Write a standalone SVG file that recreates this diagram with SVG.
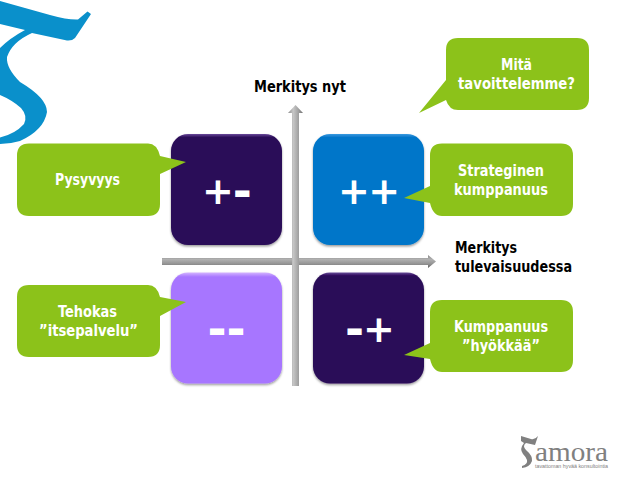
<svg xmlns="http://www.w3.org/2000/svg" width="640" height="480" viewBox="0 0 640 480">
<style>
.lbl{font-family:"DejaVu Sans",Verdana,sans-serif;font-weight:700;font-size:16px;font-stretch:condensed}
.w{fill:#fff}.k{fill:#000}
.sym{font-family:"DejaVu Sans",sans-serif;font-weight:700;font-size:38px;fill:#fff}
.hy{font-size:46px}
.call{fill:#8cc21a}
</style>
<defs>
<linearGradient id="v" x1="0" x2="1" y1="0" y2="0"><stop offset="0" stop-color="#8e8e8e"/><stop offset=".35" stop-color="#c6c6c6"/><stop offset=".7" stop-color="#a0a0a0"/><stop offset="1" stop-color="#707070"/></linearGradient>
<linearGradient id="h" x1="0" x2="0" y1="0" y2="1"><stop offset="0" stop-color="#8a8a8a"/><stop offset=".35" stop-color="#b0b0b0"/><stop offset=".7" stop-color="#929292"/><stop offset="1" stop-color="#5c5c5c"/></linearGradient>
<linearGradient id="dk" x1="0" x2="0" y1="0" y2="1"><stop offset="0" stop-color="#6a4a9a"/><stop offset=".03" stop-color="#2a0a58"/><stop offset="1" stop-color="#2a0a58"/></linearGradient>
<linearGradient id="bl" x1="0" x2="0" y1="0" y2="1"><stop offset="0" stop-color="#3a9ae0"/><stop offset=".03" stop-color="#0576c9"/><stop offset="1" stop-color="#0576c9"/></linearGradient>
<linearGradient id="li" x1="0" x2="0" y1="0" y2="1"><stop offset="0" stop-color="#d4b4ff"/><stop offset=".04" stop-color="#a776ff"/><stop offset="1" stop-color="#a776ff"/></linearGradient>
<filter id="sh" x="-10%" y="-10%" width="120%" height="120%"><feDropShadow dx="0" dy="1.500" stdDeviation="1.200" flood-color="#000" flood-opacity=".4"/></filter>
</defs>
<rect width="640" height="480" fill="#fff"/>
<path id="logo-mark" fill="#0a90cb" d="M0 1L50 15Q68 20 78 19.500L87.500 11.500L91 14L75 38Q72 41 67 40.500L32 33Q12 42 7 57Q6 68 20 82Q47 98 47 112Q44 130 20 141Q10 144 0 144V137.500Q15 134 24 124Q28 116 21 108Q12 100 0 95V48Q10 38 25 30L0 24Z"/>
<g id="axes">
<path fill="url(#h)" d="M162 258H428V255L436 261.500L428 268V265H162Z"/>
<path fill="url(#v)" d="M292 386V113H288L295.500 105L303 113H299V386Z"/>
</g>
<g id="q-pm"><rect x="171" y="134" width="111" height="111" rx="17" fill="url(#dk)" filter="url(#sh)"/><text class="sym" x="202" y="203.500">+<tspan class="hy" dx="-1" dy="3">-</tspan></text></g>
<g id="q-pp"><rect x="313" y="134" width="111" height="111" rx="17" fill="url(#bl)" filter="url(#sh)"/><text class="sym" x="338" y="203.500" letter-spacing="-1.500">++</text></g>
<g id="q-mm"><rect x="171" y="272.500" width="111" height="111" rx="17" fill="url(#li)" filter="url(#sh)"/><text class="sym hy" x="207.500" y="344.500">--</text></g>
<g id="q-mp"><rect x="313" y="272.500" width="111" height="111" rx="17" fill="url(#dk)" filter="url(#sh)"/><text class="sym" x="345" y="342"><tspan class="hy" dy="3">-</tspan><tspan dy="-3" dx="-1">+</tspan></text></g>
<g id="c-pysyvyys"><path class="call" d="M29 143.500H148Q157 143.500 160 156L186 162L160 174V204Q160 216 148 216H29Q17 216 17 204V155.500Q17 143.500 29 143.500Z"/><text class="lbl w" x="55" y="185" textLength="65" lengthAdjust="spacingAndGlyphs">Pysyvyys</text></g>
<g id="c-mita"><path class="call" d="M458 38H577Q589 38 589 50V98Q589 110 577 110H458Q449 110 446 100L419 113L446 80V50Q446 38 458 38Z"/><text class="lbl w" x="501" y="70" textLength="31" lengthAdjust="spacingAndGlyphs">Mitä</text><text class="lbl w" x="458" y="89" textLength="117" lengthAdjust="spacingAndGlyphs">tavoittelemme?</text></g>
<g id="c-strateginen"><path class="call" d="M442 143.500H561Q573 143.500 573 155.500V204Q573 216 561 216H442Q433 216 430 203L404 198L430 186V155.500Q430 143.500 442 143.500Z"/><text class="lbl w" x="458" y="176" textLength="86" lengthAdjust="spacingAndGlyphs">Strateginen</text><text class="lbl w" x="454" y="195" textLength="94" lengthAdjust="spacingAndGlyphs">kumppanuus</text></g>
<g id="c-tehokas"><path class="call" d="M29 285H148Q157 285 160 297L186 302L160 316V345Q160 357 148 357H29Q17 357 17 345V297Q17 285 29 285Z"/><text class="lbl w" x="58" y="317" textLength="59" lengthAdjust="spacingAndGlyphs">Tehokas</text><text class="lbl w" x="39" y="336" textLength="99" lengthAdjust="spacingAndGlyphs">”itsepalvelu”</text></g>
<g id="c-kumppanuus"><path class="call" d="M442 300H561Q573 300 573 312V360Q573 372 561 372H442Q433 372 430 359L404 355L430 343V312Q430 300 442 300Z"/><text class="lbl w" x="454" y="332" textLength="94" lengthAdjust="spacingAndGlyphs">Kumppanuus</text><text class="lbl w" x="462" y="351" textLength="78" lengthAdjust="spacingAndGlyphs">”hyökkää”</text></g>
<g id="axis-labels">
<text class="lbl k" x="254" y="92" textLength="92" lengthAdjust="spacingAndGlyphs">Merkitys nyt</text>
<text class="lbl k" x="455" y="253" textLength="62" lengthAdjust="spacingAndGlyphs">Merkitys</text>
<text class="lbl k" x="455" y="272" textLength="117" lengthAdjust="spacingAndGlyphs">tulevaisuudessa</text>
</g>
<g id="logo-small">
<path fill="#808080" d="M521 436L531 439Q535 440 538 436L535 445L526 443Q522 446 526 450Q533 456 532 461Q530 467 522 468V466Q528 464 527 460Q526 457 523 454Q519 449 524 443L521 441Z"/>
<text x="535" y="461" font-family="Liberation Serif,serif" font-size="27" fill="#808080" textLength="73" lengthAdjust="spacingAndGlyphs">amora</text>
<text x="535" y="468" font-family="Liberation Sans,sans-serif" font-size="6" fill="#808080" textLength="73" lengthAdjust="spacingAndGlyphs">tavattoman hyvää konsultointia</text>
</g>
</svg>
